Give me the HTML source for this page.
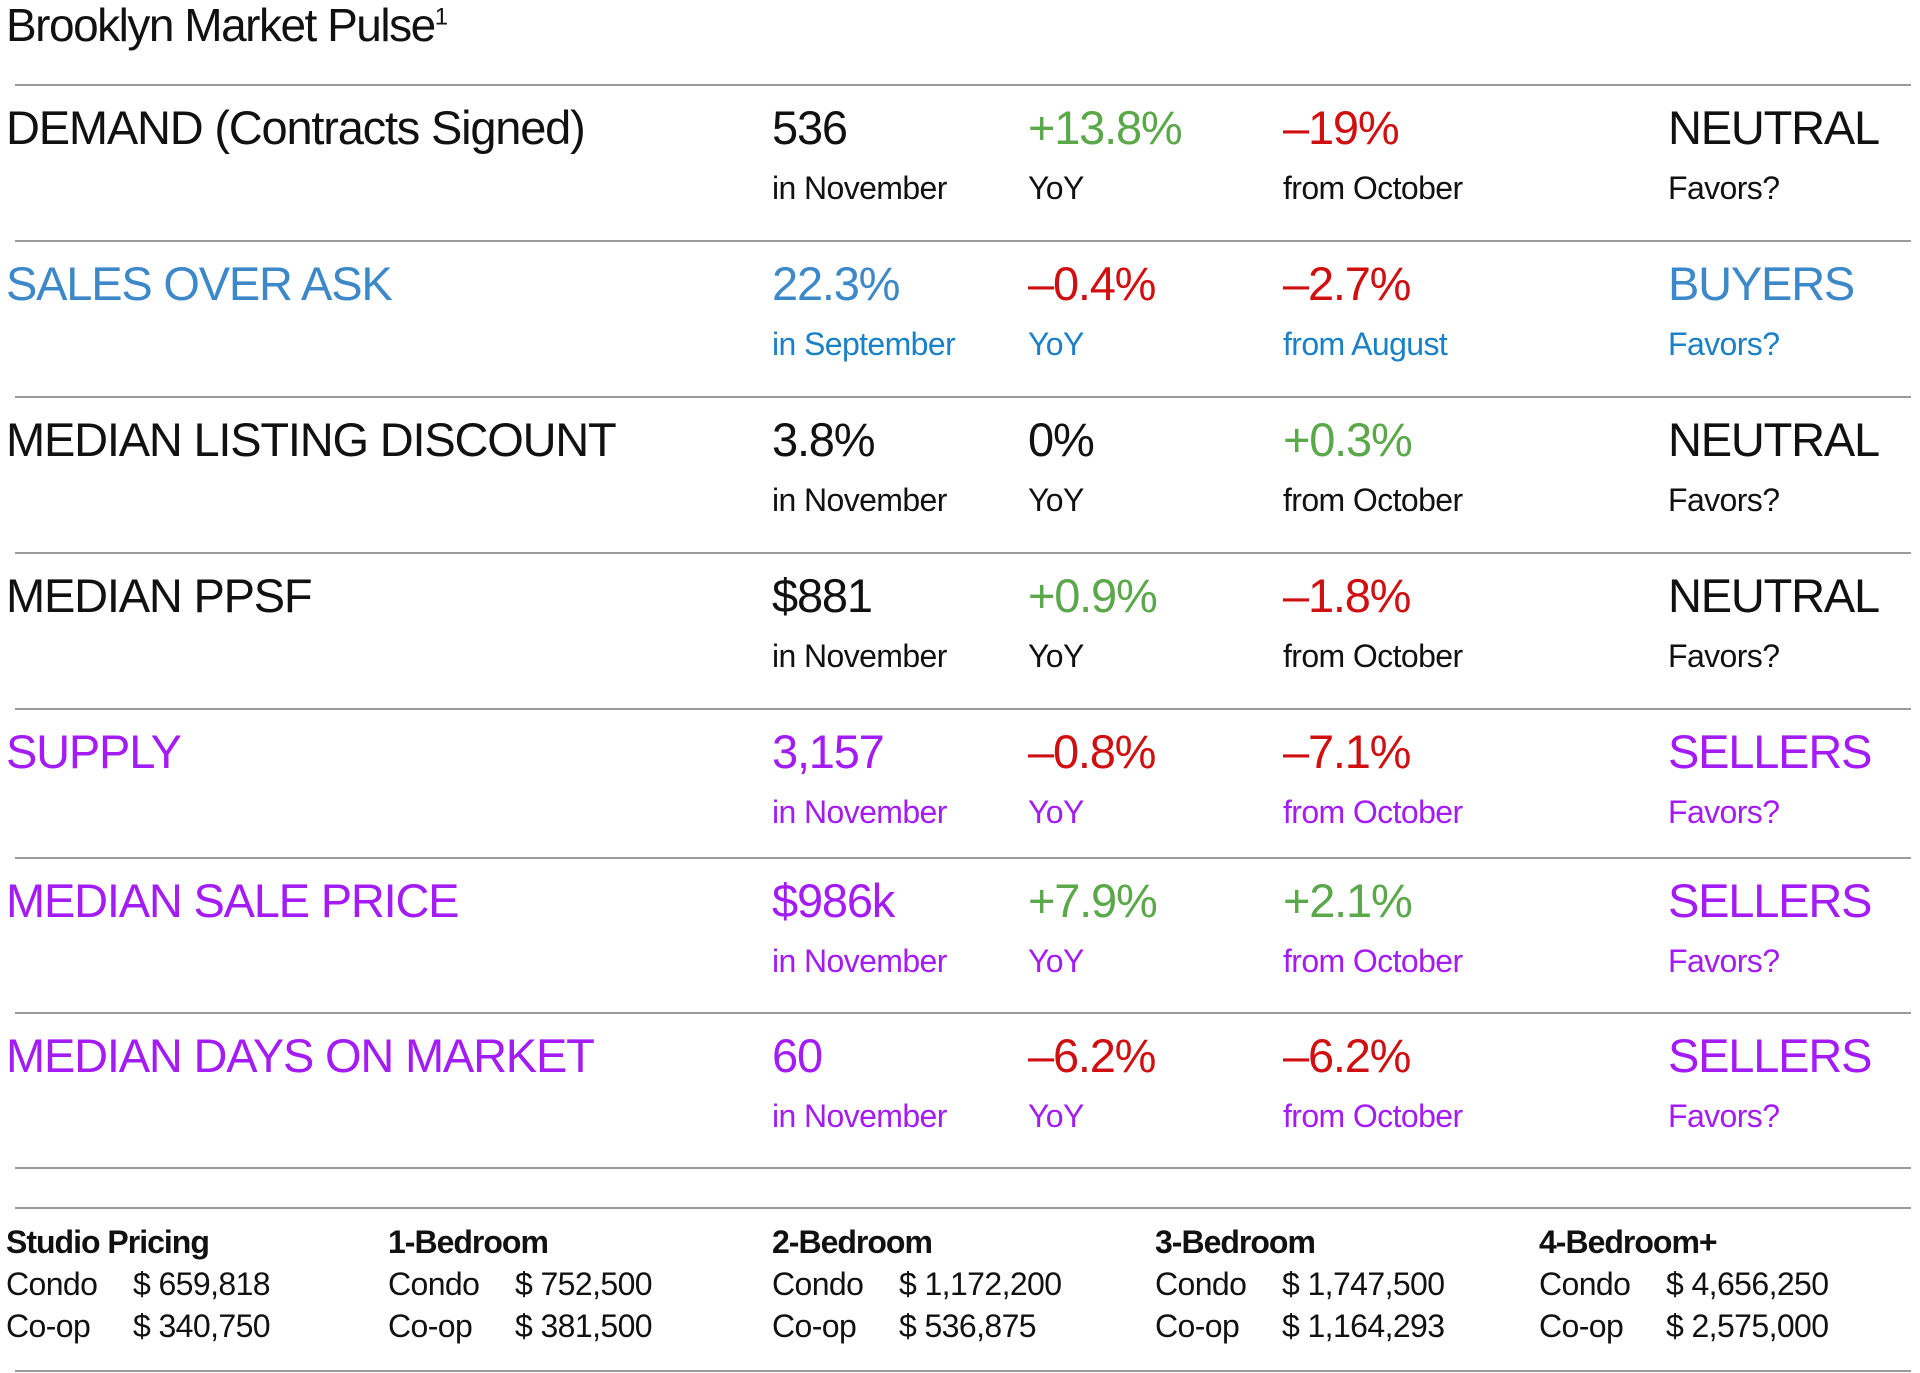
<!DOCTYPE html>
<html><head><meta charset="utf-8"><style>
html,body{margin:0;padding:0;background:#fff;width:1920px;height:1373px;overflow:hidden;font-family:"Liberation Sans",sans-serif;}
.a{position:absolute;white-space:nowrap;}
.t{font-size:46px;color:#111;letter-spacing:-1.5px;top:0px;left:6px;line-height:1.1;}
.t sup{font-size:24px;}
.hr{position:absolute;left:15px;width:1896px;height:2px;background:#9a9a9a;}
.big{font-size:47px;letter-spacing:-1.2px;line-height:1;}
.sub{font-size:32px;letter-spacing:-0.6px;line-height:1;}
.k{color:#111}.b{color:#3d88c9}.bs{color:#1a80c8}.g{color:#5aa84a}.r{color:#d01010}.p{color:#a41cf5}
.h{font-size:32px;font-weight:bold;color:#111;letter-spacing:-1px;}
.v{font-size:32px;color:#111;letter-spacing:-0.6px;}
</style></head><body>
<div class="a t">Brooklyn Market Pulse<sup>1</sup></div>
<div id="rows"></div>
<script>
var cols=[6,772,1028,1283,1668];
var tops=[84,240,396,552,708,857,1012];
var rows=[
 ["DEMAND (Contracts Signed)","k","536","k","+13.8%","g","–19%","r","NEUTRAL","k","in November","YoY","from October","k"],
 ["SALES OVER ASK","b","22.3%","b","–0.4%","r","–2.7%","r","BUYERS","b","in September","YoY","from August","bs"],
 ["MEDIAN LISTING DISCOUNT","k","3.8%","k","0%","k","+0.3%","g","NEUTRAL","k","in November","YoY","from October","k"],
 ["MEDIAN PPSF","k","$881","k","+0.9%","g","–1.8%","r","NEUTRAL","k","in November","YoY","from October","k"],
 ["SUPPLY","p","3,157","p","–0.8%","r","–7.1%","r","SELLERS","p","in November","YoY","from October","p"],
 ["MEDIAN SALE PRICE","p","$986k","p","+7.9%","g","+2.1%","g","SELLERS","p","in November","YoY","from October","p"],
 ["MEDIAN DAYS ON MARKET","p","60","p","–6.2%","r","–6.2%","r","SELLERS","p","in November","YoY","from October","p"]
];
var c=document.getElementById('rows');
function add(cls,x,y,txt,name){var d=document.createElement('div');d.className='a '+cls;d.style.left=x+'px';d.style.top=y+'px';d.textContent=txt;


c.appendChild(d);}
function line(y,name){var d=document.createElement('div');d.className='hr';d.style.top=y+'px';


c.appendChild(d);}
rows.forEach(function(r,i){
 var y=tops[i];
 line(y,'row-divider');
 add('big '+r[1],cols[0],y+20,r[0],'metric-name');
 add('big '+r[3],cols[1],y+20,r[2],'metric-value');
 add('big '+r[5],cols[2],y+20,r[4],'yoy-change');
 add('big '+r[7],cols[3],y+20,r[6],'mom-change');
 add('big '+r[9],cols[4],y+20,r[8],'favors-value');
 var s=r[13];
 add('sub '+s,cols[1],y+88,r[10],'period-label');
 add('sub '+s,cols[2],y+88,r[11],'yoy-label');
 add('sub '+s,cols[3],y+88,r[12],'mom-label');
 add('sub '+s,cols[4],y+88,'Favors?','favors-label');
});
line(1167,'section-divider');
line(1207,'section-divider');
line(1370,'bottom-divider');
var bx=[6,388,772,1155,1539];
var heads=["Studio Pricing","1-Bedroom","2-Bedroom","3-Bedroom","4-Bedroom+"];
var condo=["$ 659,818","$ 752,500","$ 1,172,200","$ 1,747,500","$ 4,656,250"];
var coop=["$ 340,750","$ 381,500","$ 536,875","$ 1,164,293","$ 2,575,000"];
heads.forEach(function(h,i){
 add('h',bx[i],1224,h,'pricing-header');
 add('v',bx[i],1266,'Condo','condo-label');
 add('v',bx[i]+127,1266,condo[i],'condo-price');
 add('v',bx[i],1308,'Co-op','coop-label');
 add('v',bx[i]+127,1308,coop[i],'coop-price');
});
</script>
</body></html>
